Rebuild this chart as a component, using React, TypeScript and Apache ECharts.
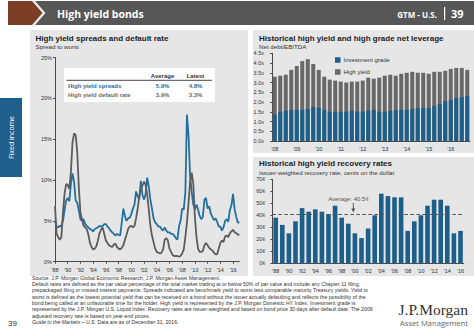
import React, { useEffect, useRef } from "react";
import * as echarts from "echarts";

// ---------- data ----------
const spreadStartYear = 1988; // quarterly observations from Q1 1988 to end of 2016
const hySpreads = [
  5.0, 4.3, 4.2, 4.4,
  4.3, 5.0, 6.3, 7.5,
  7.8, 7.4, 9.5, 10.8,
  9.8, 7.5, 7.2, 6.3,
  5.2, 5.0, 5.2, 4.6,
  4.4, 4.2, 4.0, 3.9,
  3.7, 4.0, 4.1, 4.2,
  4.4, 4.3, 4.4, 4.6,
  4.6, 4.3, 4.1, 3.8,
  3.6, 3.4, 3.2, 3.4,
  3.3, 3.2, 4.8, 6.5,
  5.6, 5.0, 5.3, 5.4,
  5.8, 6.5, 7.0, 8.6,
  8.0, 7.6, 9.9, 8.2,
  7.6, 8.3, 10.3, 9.2,
  7.6, 6.5, 5.3, 4.8,
  4.6, 4.3, 4.3, 4.0,
  3.8, 4.2, 3.8, 3.6,
  3.6, 3.4, 3.4, 3.2,
  2.9, 2.7, 4.3, 5.0,
  6.5, 6.4, 8.5, 18.0,
  15.5, 10.5, 8.5, 7.0,
  6.4, 7.0, 6.4, 5.6,
  5.2, 5.5, 7.6, 7.8,
  6.5, 6.8, 5.9, 5.5,
  5.1, 5.3, 4.9, 4.3,
  4.3, 3.8, 4.2, 5.0,
  5.2, 4.9, 6.3, 6.9,
  8.3, 6.4, 5.5, 4.8,
  4.8,
];
const hyDefaults = [
  6.8, 3.4, 3.0, 2.7,
  3.0, 6.0, 8.3, 9.5,
  9.4, 8.9, 11.0, 14.6,
  15.7, 15.5, 13.4, 9.1,
  6.0, 5.2, 4.4, 4.2,
  4.0, 3.3, 2.3, 1.8,
  1.5, 1.6, 1.9, 2.6,
  3.5, 3.9, 4.2, 3.4,
  2.6, 2.3, 2.0, 1.9,
  1.8, 2.1, 2.2, 1.8,
  1.6, 1.5, 1.7, 2.0,
  2.7, 3.3, 4.0, 4.3,
  4.4, 4.2, 4.4, 5.3,
  6.5, 8.0, 9.0, 9.3,
  9.8, 9.4, 8.2, 6.4,
  4.4, 3.2, 2.4, 1.6,
  1.2, 1.1, 1.0, 1.1,
  1.5, 2.7, 2.9, 2.6,
  1.6, 1.2, 0.8, 0.7,
  0.7, 0.7, 0.6, 0.7,
  1.0, 1.5, 3.0, 4.8,
  7.2, 9.8, 10.9, 9.5,
  5.5, 3.0, 1.6, 1.2,
  1.2, 1.3, 2.0, 2.3,
  2.0, 1.7, 1.5, 1.4,
  1.1, 0.9, 0.9, 1.6,
  2.3, 2.6, 2.4, 3.1,
  3.2, 3.0, 3.5, 3.7,
  3.9, 3.6, 3.5, 3.3,
  3.3,
];
const tableHeaders = ["Average", "Latest"];
const tableSpreads = ["High yield spreads", "5.9%", "4.8%"];
const tableDefaults = ["High yield default rate", "3.9%", "3.3%"];

const leverageYears = ["08", "09", "10", "11", "12", "13", "14", "15", "16"];
const leverageQuarters = leverageYears.flatMap((y) => ["1Q", "2Q", "3Q", "4Q"].map((q) => q + y));
const igLeverage = [
  1.35, 1.5, 1.55, 1.6, 1.6, 1.6, 1.65, 1.75, 1.7, 1.6, 1.5, 1.5,
  1.5, 1.5, 1.55, 1.5, 1.5, 1.55, 1.6, 1.5, 1.5, 1.55, 1.6, 1.6,
  1.6, 1.65, 1.7, 1.7, 1.7, 1.8, 1.9, 2.05, 2.1, 2.2, 2.25, 2.3,
];
const hyLeverage = [
  3.3, 3.35, 3.4, 3.65, 3.85, 4.1, 4.2, 3.95, 3.65, 3.3, 3.15, 3.1,
  3.05, 3.0, 3.05, 3.05, 3.1, 3.25, 3.2, 3.25, 3.35, 3.4, 3.35, 3.45,
  3.5, 3.55, 3.5, 3.5, 3.45, 3.55, 3.55, 3.6, 3.7, 3.75, 3.75, 3.65,
];

const recoveryYears = [
  "1988", "1989", "1990", "1991", "1992", "1993", "1994", "1995", "1996", "1997",
  "1998", "1999", "2000", "2001", "2002", "2003", "2004", "2005", "2006", "2007",
  "2008", "2009", "2010", "2011", "2012", "2013", "2014", "2015", "2016",
];
const recoveryRates = [
  38, 32, 25, 35, 46, 43, 45, 43, 41, 48,
  38, 33, 25, 21, 29, 40, 58, 56, 55, 55,
  27, 35, 40, 48, 53, 53, 48, 25, 27,
];
const recoveryAverage = 40.5;

const footnotes = [
  "Source: J.P. Morgan Global Economic Research, J.P. Morgan Asset Management.",
  "Default rates are defined as the par value percentage of the total market trading at or below 50% of par value and include any Chapter 11 filing,",
  "prepackaged filing or missed interest payments. Spreads indicated are benchmark yield to worst less comparable maturity Treasury yields. Yield to",
  "worst is defined as the lowest potential yield that can be received on a bond without the issuer actually defaulting and reflects the possibility of the",
  "bond being called at an unfavorable time for the holder. High yield is represented by the J.P. Morgan Domestic HY Index. Investment grade is",
  "represented by the J.P. Morgan U.S. Liquid Index. Recovery rates are issuer-weighted and based on bond price 30 days after default date. The 2009",
  "adjusted recovery rate is based on year-end prices.",
];

// ---------- styles ----------
const FONT = '"Liberation Sans", Arial, sans-serif';
const HEAD_FONT = '"Open Sans", "Noto Sans", sans-serif';
const BLUE = "#22709f";
const BAR_BLUE = "#1d5f8b";
const GRAY_LINE = "#5c5c5c";
const GRAY_BAR = "#686868";
const PANEL = "#e6e6e6";
const AXIS = "#4a4a4a";

type TOpts = { size?: number; bold?: boolean; fill?: string; align?: string; family?: string; italic?: boolean; z?: number; rich?: any; rotation?: number };
function txt(text: string, x: number, y: number, o: TOpts = {}) {
  return {
    type: "text",
    x,
    y,
    z: o.z ?? 10,
    rotation: o.rotation ?? 0,
    silent: true,
    style: {
      text,
      fill: o.fill ?? "#333",
      fontSize: o.size ?? 6,
      fontWeight: o.bold ? "bold" : "normal",
      fontStyle: o.italic ? "italic" : "normal",
      fontFamily: o.family ?? FONT,
      align: o.align ?? "left",
      verticalAlign: "middle",
      rich: o.rich,
    },
  };
}

function buildOption() {
  const spreadData = hySpreads.map((v, i) => [spreadStartYear + i * 0.25, v]);
  const defaultData = hyDefaults.map((v, i) => [spreadStartYear + i * 0.25, v]);

  const axisLabel = { fontSize: 5.5, color: "#333", fontFamily: FONT };
  const axisLine = { show: true, lineStyle: { color: AXIS, width: 1 } };

  const graphic: any[] = [
    // panels
    { type: "rect", z: -10, silent: true, shape: { x: 30, y: 30, width: 218, height: 246 }, style: { fill: PANEL } },
    { type: "rect", z: -10, silent: true, shape: { x: 253, y: 30, width: 221, height: 123 }, style: { fill: PANEL } },
    { type: "rect", z: -10, silent: true, shape: { x: 253, y: 157, width: 221, height: 119 }, style: { fill: PANEL } },
    // header
    { type: "rect", silent: true, shape: { x: 8, y: 1, width: 466, height: 24 }, style: { fill: "#575757" } },
    { type: "polygon", silent: true, shape: { points: [[8, 1], [35, 1], [45.5, 13], [35, 25], [8, 25]] }, style: { fill: "#eeeeee" } },
    { type: "polygon", silent: true, shape: { points: [[8, 1], [32, 1], [42.5, 13], [32, 25], [8, 25]] }, style: { fill: "#7b3d24" } },
    txt("High yield bonds", 57, 13.5, { size: 10.5, bold: true, fill: "#fff", family: HEAD_FONT }),
    txt("GTM - U.S.", 437, 14, { size: 8, bold: true, fill: "#fff", family: HEAD_FONT, align: "right" }),
    { type: "rect", silent: true, shape: { x: 444, y: 7, width: 1.2, height: 13 }, style: { fill: "#fff" } },
    txt("39", 451, 13.5, { size: 11, bold: true, fill: "#fff", family: HEAD_FONT }),
    // side tab
    { type: "rect", silent: true, shape: { x: 0, y: 98, width: 22, height: 79 }, style: { fill: "#1f5f8c" } },
    txt("Fixed income", 11, 137.5, { size: 7, fill: "#fff", family: HEAD_FONT, align: "center", rotation: Math.PI / 2 }),
    // titles
    txt("High yield spreads and default rate", 35.5, 38.5, { size: 8, bold: true, fill: "#222" }),
    txt("Spread to worst", 35.5, 46.5, { size: 6.2 }),
    txt("Historical high yield and high grade net leverage", 259, 38.5, { size: 8, bold: true, fill: "#222" }),
    txt("Net debt/EBITDA", 259, 46.5, { size: 6.2 }),
    txt("Historical high yield recovery rates", 259, 163, { size: 8, bold: true, fill: "#222" }),
    txt("Issuer-weighted recovery rate, cents on the dollar", 259, 172.5, { size: 6.2 }),
    // table
    { type: "rect", z: 20, silent: true, shape: { x: 64, y: 68, width: 151, height: 34 }, style: { fill: "#fff" } },
    txt(tableHeaders[0], 162.5, 76, { size: 6, bold: true, align: "center", z: 21 }),
    txt(tableHeaders[1], 195.5, 76, { size: 6, bold: true, align: "center", z: 21 }),
    { type: "line", z: 21, silent: true, shape: { x1: 66.5, y1: 80.3, x2: 212, y2: 80.3 }, style: { stroke: "#333", lineWidth: 0.9 } },
    txt(tableSpreads[0], 68, 85.8, { size: 6, bold: true, fill: BLUE, z: 21 }),
    txt(tableSpreads[1], 162.5, 85.8, { size: 6, bold: true, fill: BLUE, align: "center", z: 21 }),
    txt(tableSpreads[2], 195.5, 85.8, { size: 6, bold: true, fill: BLUE, align: "center", z: 21 }),
    txt(tableDefaults[0], 68, 94.5, { size: 6, bold: true, fill: "#6a6a6a", z: 21 }),
    txt(tableDefaults[1], 162.5, 94.5, { size: 6, bold: true, fill: "#6a6a6a", align: "center", z: 21 }),
    txt(tableDefaults[2], 195.5, 94.5, { size: 6, bold: true, fill: "#6a6a6a", align: "center", z: 21 }),
    // average annotation
    txt("Average: " + recoveryAverage + "¢", 348.5, 199.3, { size: 6, fill: "#555", align: "center" }),
    { type: "line", silent: true, z: 10, shape: { x1: 353.3, y1: 203, x2: 353.3, y2: 209.5 }, style: { stroke: "#555", lineWidth: 0.9 } },
    { type: "polygon", silent: true, z: 10, shape: { points: [[351.3, 208.5], [355.3, 208.5], [353.3, 212.5]] }, style: { fill: "#555" } },
    // footer
    ...footnotes.map((t, i) => txt(t, 32, 277.5 + i * 6.35, { size: 5.2, fill: "#333" })),
    txt("{i|Guide to the Markets – U.S.} Data are as of December 31, 2016.", 32, 277.5 + 7 * 6.35, {
      size: 5.2,
      fill: "#333",
      rich: { i: { fontStyle: "italic", fontSize: 5.2, fontFamily: FONT, fill: "#333" } },
    }),
    txt("39", 8, 323, { size: 8, fill: "#333" }),
    txt("J.P.Morgan", 468, 309.5, { size: 15.5, fill: "#333", family: '"Liberation Serif", "DejaVu Serif", serif', align: "right" }),
    txt("Asset Management", 468, 322.5, { size: 7.6, fill: "#666", family: HEAD_FONT, align: "right" }),
  ];

  return {
    animation: false,
    backgroundColor: "#ffffff",
    textStyle: { fontFamily: FONT },
    graphic,
    legend: {
      data: ["Investment grade", "High yield"],
      orient: "vertical",
      left: 330,
      top: 52,
      itemWidth: 5.5,
      itemHeight: 5.5,
      itemGap: 6,
      icon: "rect",
      selectedMode: false,
      textStyle: { fontSize: 6, color: "#333", fontFamily: FONT, padding: [0, 0, 0, -2] },
    },
    grid: [
      { left: 55, top: 57.5, width: 184.4, height: 204.2 },
      { left: 272, top: 53.3, width: 198, height: 87.7 },
      { left: 272.4, top: 179.3, width: 191.4, height: 84 },
    ],
    xAxis: [
      {
        type: "value",
        gridIndex: 0,
        min: 1988,
        max: 2017,
        interval: 2,
        splitLine: { show: false },
        axisLine,
        axisTick: { show: true, length: 2, lineStyle: { color: AXIS } },
        axisLabel: {
          ...axisLabel,
          margin: 5,
          showMaxLabel: false,
          formatter: (v: number) => (v % 2 === 0 ? "'" + String(v).slice(2) : ""),
        },
      },
      {
        type: "category",
        gridIndex: 1,
        data: leverageQuarters,
        axisLine,
        axisTick: { show: false },
        axisLabel: { ...axisLabel, margin: 5, interval: 3, formatter: (v: string) => "'" + v.slice(-2) },
      },
      {
        type: "category",
        gridIndex: 2,
        data: recoveryYears,
        axisLine,
        axisTick: { show: false },
        axisLabel: { ...axisLabel, margin: 4.5, interval: 1, formatter: (v: string) => "'" + v.slice(-2) },
      },
    ],
    yAxis: [
      {
        type: "value",
        gridIndex: 0,
        min: 0,
        max: 25,
        interval: 5,
        splitLine: { show: false },
        axisLine,
        axisTick: { show: true, length: 2, lineStyle: { color: AXIS } },
        axisLabel: { ...axisLabel, margin: 3, formatter: (v: number) => v + "%" },
      },
      {
        type: "value",
        gridIndex: 1,
        min: 0,
        max: 4.5,
        interval: 0.5,
        splitLine: { show: false },
        axisLine,
        axisTick: { show: true, length: 2, lineStyle: { color: AXIS } },
        axisLabel: { ...axisLabel, margin: 8, formatter: (v: number) => v.toFixed(1) + "x" },
      },
      {
        type: "value",
        gridIndex: 2,
        min: 0,
        max: 70,
        interval: 10,
        splitLine: { show: false },
        axisLine,
        axisTick: { show: true, length: 2, lineStyle: { color: AXIS } },
        axisLabel: { ...axisLabel, margin: 7, formatter: (v: number) => v + "¢" },
      },
    ],
    series: [
      {
        name: "High yield spreads",
        type: "line",
        xAxisIndex: 0,
        yAxisIndex: 0,
        data: spreadData,
        showSymbol: false,
        symbol: "none",
        lineStyle: { color: BLUE, width: 1.8 },
        itemStyle: { color: BLUE },
        z: 3,
      },
      {
        name: "High yield default rate",
        type: "line",
        xAxisIndex: 0,
        yAxisIndex: 0,
        data: defaultData,
        showSymbol: false,
        symbol: "none",
        lineStyle: { color: GRAY_LINE, width: 1.8 },
        itemStyle: { color: GRAY_LINE },
        z: 4,
      },
      {
        name: "High yield",
        type: "bar",
        xAxisIndex: 1,
        yAxisIndex: 1,
        data: hyLeverage,
        barWidth: 4,
        barGap: "-100%",
        itemStyle: { color: GRAY_BAR },
      },
      {
        name: "Investment grade",
        type: "bar",
        xAxisIndex: 1,
        yAxisIndex: 1,
        data: igLeverage,
        barWidth: 4,
        barGap: "-100%",
        itemStyle: { color: BAR_BLUE },
      },
      {
        name: "Recovery rate",
        type: "bar",
        xAxisIndex: 2,
        yAxisIndex: 2,
        data: recoveryRates,
        barWidth: 4.6,
        itemStyle: { color: BAR_BLUE },
        markLine: {
          silent: true,
          symbol: "none",
          label: { show: false },
          lineStyle: { color: "#555", width: 1, type: [3.5, 2.5] },
          data: [{ yAxis: recoveryAverage }],
        },
      },
    ],
  };
}

export default function App() {
  const ref = useRef<HTMLDivElement>(null);
  useEffect(() => {
    if (!ref.current) return;
    const chart = echarts.init(ref.current, null, { renderer: "svg" });
    chart.setOption(buildOption() as any);
    return () => chart.dispose();
  }, []);
  return (
    <div
      ref={ref}
      style={{ position: "fixed", left: 0, top: 0, width: 474, height: 333, background: "#fff" }}
    />
  );
}
